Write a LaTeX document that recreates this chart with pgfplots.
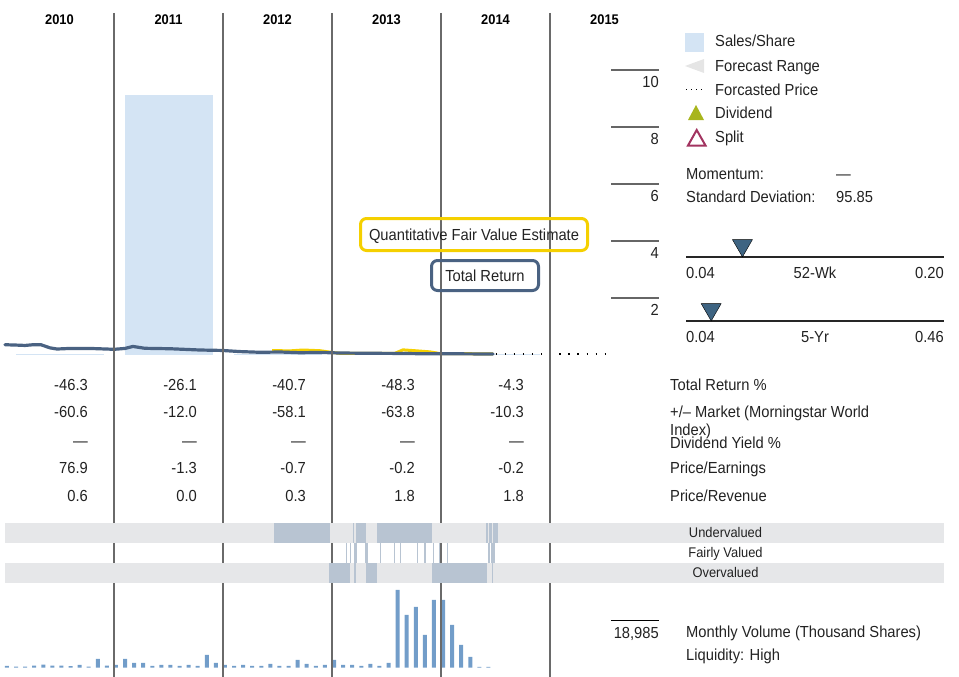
\documentclass[border=0pt]{standalone}
\usepackage{pgfplots}
\pgfplotsset{compat=1.18}
\usepackage{fontspec}
\setmainfont{Liberation Sans}[FakeStretch=0.92]
\definecolor{priceblue}{HTML}{4A6282}
\definecolor{fvyellow}{HTML}{F5D000}
\definecolor{salesblue}{HTML}{D4E4F4}
\definecolor{bandgray}{HTML}{E6E7E9}
\definecolor{bandblue}{HTML}{B8C4D2}
\definecolor{volblue}{HTML}{729DC9}
\definecolor{gridgray}{HTML}{6A6A6A}
\definecolor{markblue}{HTML}{3E6482}
\definecolor{divolive}{HTML}{A8B51D}
\definecolor{splitred}{HTML}{A23460}
\definecolor{txt}{HTML}{222222}
\newcommand{\fs}[1]{\fontsize{#1}{#1}\selectfont}
\newcommand{\seg}[4]{\addplot[fill=bandblue,draw=none] coordinates {(#1,#3)(#2,#3)(#2,#4)(#1,#4)} -- cycle;}

\pgfplotstableread{
m vol
0 673
1 404
2 404
3 808
4 1211
5 808
6 808
7 538
8 1077
9 404
10 3500
11 808
12 1077
13 3500
14 1884
15 1884
16 673
17 1077
18 1077
19 673
20 1077
21 673
22 5115
23 1884
24 1077
25 673
26 1077
27 673
28 673
29 1481
30 673
31 673
32 3096
33 1481
34 673
35 1077
36 3096
37 1077
38 1077
39 673
40 1481
41 673
42 1884
43 31362
44 21267
45 24497
46 13191
47 27324
48 27324
49 17229
50 9153
51 4307
52 269
53 269
}\voltable

\begin{document}
\begin{tikzpicture}[every node/.style={text=txt}]
\path[use as bounding box] (0,0) rectangle (959pt,-677pt);

% ---------------- price chart ----------------
\begin{axis}[at={(5pt,-355pt)}, anchor=south west, scale only axis,
  width=654pt, height=285pt, xmin=2010, xmax=2016, ymin=0, ymax=10,
  hide axis, clip=false]
% sales/share
\addplot[fill=salesblue, draw=none] coordinates {(2010.10,0)(2010.10,0.04)(2010.91,0.04)(2010.91,0)} -- cycle;
\addplot[fill=salesblue, draw=none] coordinates {(2011.10,0)(2011.10,9.12)(2011.91,9.12)(2011.91,0)} -- cycle;
\addplot[fill=salesblue, draw=none] coordinates {(2012.10,0)(2012.10,0.04)(2012.91,0.04)(2012.91,0)} -- cycle;
\addplot[fill=salesblue, draw=none] coordinates {(2013.10,0)(2013.10,0.03)(2013.91,0.03)(2013.91,0)} -- cycle;
\addplot[fill=salesblue, draw=none] coordinates {(2014.10,0)(2014.10,0.03)(2014.91,0.03)(2014.91,0)} -- cycle;
% fair value estimate
\addplot[fvyellow, line width=3pt, line join=round] coordinates {
(2012.450,0.155)(2012.615,0.145)(2012.734,0.175)(2012.890,0.15)(2013.000,0.09)
(2013.073,0.06)(2013.578,0.06)(2013.651,0.18)(2013.761,0.15)(2013.899,0.11)
(2013.991,0.05)(2014.477,0.04)};
% price
\addplot[priceblue, line width=3.2pt, line join=round, line cap=round] coordinates {
(2010.000,0.36)(2010.092,0.35)(2010.183,0.335)(2010.257,0.36)(2010.330,0.36)
(2010.413,0.25)(2010.477,0.21)(2010.596,0.23)(2010.780,0.23)(2011.000,0.20)
(2011.101,0.23)(2011.174,0.30)(2011.284,0.235)(2011.514,0.22)(2011.789,0.175)
(2011.991,0.16)(2012.156,0.12)(2012.339,0.095)(2012.523,0.105)(2012.706,0.08)
(2012.890,0.09)(2013.073,0.07)(2013.349,0.06)(2013.624,0.055)(2013.807,0.045)
(2013.991,0.045)(2014.477,0.035)};
% forecast
\addplot[black, line width=1.3pt, dash pattern=on 1.3pt off 7.8pt] coordinates {(2014.50,0.035)(2015.58,0.035)};
% right scale
\pgfplotsinvokeforeach{2,4,6,8,10}{
  \draw[gray!80!black, line width=1.3pt] (axis cs:2015.56,#1) -- (axis cs:2016,#1);
  \node[anchor=base east, inner sep=0, font=\fs{16}] at (axis cs:2016,#1) [yshift=-17.5pt] {#1};
}
\end{axis}

% ---------------- volume ----------------
\begin{axis}[at={(5pt,-667.5pt)}, anchor=south west, scale only axis,
  width=654pt, height=80pt, xmin=0, xmax=72, ymin=0, ymax=32315,
  hide axis, clip=false, ybar, bar width=4pt]
\addplot[fill=volblue, draw=none, bar shift=2pt] table[x=m, y=vol] {\voltable};
\draw[black, line width=1pt] (axis cs:66.7,18985) -- (axis cs:72,18985);
\node[anchor=base east, inner sep=0, font=\fs{16}] at (axis cs:72,18985) [yshift=-17.5pt] {18,985};
\end{axis}

% ---------------- grid lines ----------------
\foreach \x in {114,223,332,441,550}
  \draw[gridgray, line width=1.5pt] (\x pt,-13pt) -- (\x pt,-677pt);

% ---------------- valuation bands ----------------
\begin{axis}[at={(5pt,-583pt)}, anchor=south west, scale only axis,
  width=939pt, height=60pt, xmin=2010, xmax=2018.6147, ymin=0, ymax=3,
  hide axis, clip=false]
\addplot[fill=bandgray, draw=none] coordinates {(2010,2)(2018.6147,2)(2018.6147,3)(2010,3)} -- cycle;
\addplot[fill=bandgray, draw=none] coordinates {(2010,0)(2018.6147,0)(2018.6147,1)(2010,1)} -- cycle;
% undervalued
\seg{2012.468}{2012.982}{2}{3}
\seg{2013.195}{2013.204}{2}{3}
\seg{2013.217}{2013.225}{2}{3}
\seg{2013.229}{2013.312}{2}{3}
\seg{2013.413}{2013.917}{2}{3}
\seg{2014.417}{2014.431}{2}{3}
\seg{2014.443}{2014.468}{2}{3}
\seg{2014.480}{2014.523}{2}{3}
% fairly valued
\seg{2013.128}{2013.138}{1}{2}
\seg{2013.165}{2013.174}{1}{2}
\seg{2013.205}{2013.229}{1}{2}
\seg{2013.303}{2013.328}{1}{2}
\seg{2013.440}{2013.450}{1}{2}
\seg{2013.572}{2013.581}{1}{2}
\seg{2013.624}{2013.633}{1}{2}
\seg{2013.777}{2013.786}{1}{2}
\seg{2013.844}{2013.860}{1}{2}
\seg{2013.924}{2013.933}{1}{2}
\seg{2013.984}{2013.994}{1}{2}
\seg{2014.055}{2014.064}{1}{2}
\seg{2014.431}{2014.450}{1}{2}
\seg{2014.459}{2014.495}{1}{2}
% overvalued
\seg{2012.972}{2013.165}{0}{1}
\seg{2013.205}{2013.217}{0}{1}
\seg{2013.312}{2013.413}{0}{1}
\seg{2013.917}{2014.422}{0}{1}
\seg{2014.465}{2014.477}{0}{1}
\end{axis}

% ---------------- 52-wk / 5-yr ranges ----------------
\begin{axis}[at={(686pt,-257pt)}, anchor=south west, scale only axis,
  width=258pt, height=17pt, xmin=0.04, xmax=0.20, ymin=0, ymax=1,
  hide axis, clip=false]
\addplot[black!85, line width=1.3pt] coordinates {(0.04,0)(0.20,0)};
\addplot[only marks, mark=triangle*, mark size=11.5pt,
  mark options={rotate=180, fill=markblue, draw=none}] coordinates {(0.075,0.68)};
\end{axis}
\begin{axis}[at={(686pt,-321pt)}, anchor=south west, scale only axis,
  width=258pt, height=17pt, xmin=0.04, xmax=0.46, ymin=0, ymax=1,
  hide axis, clip=false]
\addplot[black!85, line width=1.3pt] coordinates {(0.04,0)(0.46,0)};
\addplot[only marks, mark=triangle*, mark size=11.5pt,
  mark options={rotate=180, fill=markblue, draw=none}] coordinates {(0.081,0.68)};
\end{axis}

% ---------------- texts ----------------
\begin{scope}[x=1pt, y=-1pt]
\foreach \yr/\xc in {2010/59.5,2011/168.5,2012/277.5,2013/386.5,2014/495.5,2015/604.5}
  \node[anchor=base, inner sep=0, font=\fs{14}\bfseries, text=black] at (\xc,24.5) {\yr};

% callouts
\node[draw=fvyellow, line width=3pt, rounded corners=6pt, minimum width=227pt, minimum height=32pt, inner sep=0] at (474,234.5) {};
\node[anchor=base, inner sep=0, font=\fs{16}] at (474,240.5) {Quantitative Fair Value Estimate};
\node[draw=priceblue, line width=3pt, rounded corners=6pt, minimum width=107pt, minimum height=30pt, inner sep=0] at (485,275.5) {};
\node[anchor=base, inner sep=0, font=\fs{16}] at (485,281) {Total Return};

% legend
\fill[salesblue] (685,33) rectangle (704,52);
\node[anchor=base west, inner sep=0, font=\fs{16}] at (715,46.5) {Sales/Share};
\fill[black!10] (685,66) -- (704,59) -- (704,73) -- cycle;
\node[anchor=base west, inner sep=0, font=\fs{16}] at (715,71.5) {Forecast Range};
\draw[black, line width=1pt, dash pattern=on 1pt off 4pt] (686,90) -- (705,90);
\node[anchor=base west, inner sep=0, font=\fs{16}] at (715,95.5) {Forcasted Price};
\fill[divolive] (688,120) -- (704,120) -- (696,105) -- cycle;
\node[anchor=base west, inner sep=0, font=\fs{16}] at (715,118.5) {Dividend};
\draw[splitred, line width=2pt, line join=miter] (688,145.5) -- (705.5,145.5) -- (696.7,130) -- cycle;
\node[anchor=base west, inner sep=0, font=\fs{16}] at (715,142.5) {Split};

\node[anchor=base west, inner sep=0, font=\fs{16}] at (686,179.5) {Momentum:};
\node[anchor=base west, inner sep=0, font=\fs{16}] at (836,179.5) {—};
\node[anchor=base west, inner sep=0, font=\fs{16}] at (686,202.5) {Standard Deviation:};
\node[anchor=base west, inner sep=0, font=\fs{16}] at (836,202.5) {95.85};

\node[anchor=base west, inner sep=0, font=\fs{16}] at (686,278.5) {0.04};
\node[anchor=base, inner sep=0, font=\fs{16}] at (815,278.5) {52-Wk};
\node[anchor=base east, inner sep=0, font=\fs{16}] at (944,278.5) {0.20};
\node[anchor=base west, inner sep=0, font=\fs{16}] at (686,342.5) {0.04};
\node[anchor=base, inner sep=0, font=\fs{16}] at (815,342.5) {5-Yr};
\node[anchor=base east, inner sep=0, font=\fs{16}] at (944,342.5) {0.46};

% table values
\foreach \a/\b/\c/\d/\e/\xr in {-46.3/-60.6/—/76.9/0.6/88, -26.1/-12.0/—/-1.3/0.0/197, -40.7/-58.1/—/-0.7/0.3/306, -48.3/-63.8/—/-0.2/1.8/415, -4.3/-10.3/—/-0.2/1.8/524}{
  \node[anchor=base east, inner sep=0, font=\fs{16}] at (\xr,390.5) {\a};
  \node[anchor=base east, inner sep=0, font=\fs{16}] at (\xr,417.5) {\b};
  \node[anchor=base east, inner sep=0, font=\fs{16}] at (\xr,446) {\c};
  \node[anchor=base east, inner sep=0, font=\fs{16}] at (\xr,473.5) {\d};
  \node[anchor=base east, inner sep=0, font=\fs{16}] at (\xr,501.5) {\e};
}
\node[anchor=base west, inner sep=0, font=\fs{16}] at (670,390.5) {Total Return \%};
\node[anchor=base west, inner sep=0, font=\fs{16}] at (670,417.5) {+/– Market (Morningstar World};
\node[anchor=base west, inner sep=0, font=\fs{16}] at (670,435) {Index)};
\node[anchor=base west, inner sep=0, font=\fs{16}] at (670,448.5) {Dividend Yield \%};
\node[anchor=base west, inner sep=0, font=\fs{16}] at (670,473.5) {Price/Earnings};
\node[anchor=base west, inner sep=0, font=\fs{16}] at (670,501.5) {Price/Revenue};

% band labels
\node[anchor=base, inner sep=0, font=\fs{14}] at (725.5,537) {Undervalued};
\node[anchor=base, inner sep=0, font=\fs{14}] at (725.5,557) {Fairly Valued};
\node[anchor=base, inner sep=0, font=\fs{14}] at (725.5,577) {Overvalued};

% volume labels
\node[anchor=base west, inner sep=0, font=\fs{16}] at (686,637.5) {Monthly Volume (Thousand Shares)};
\node[anchor=base west, inner sep=0, font=\fs{16}] at (686,660.5) {Liquidity: High};
\end{scope}
\end{tikzpicture}
\end{document}
